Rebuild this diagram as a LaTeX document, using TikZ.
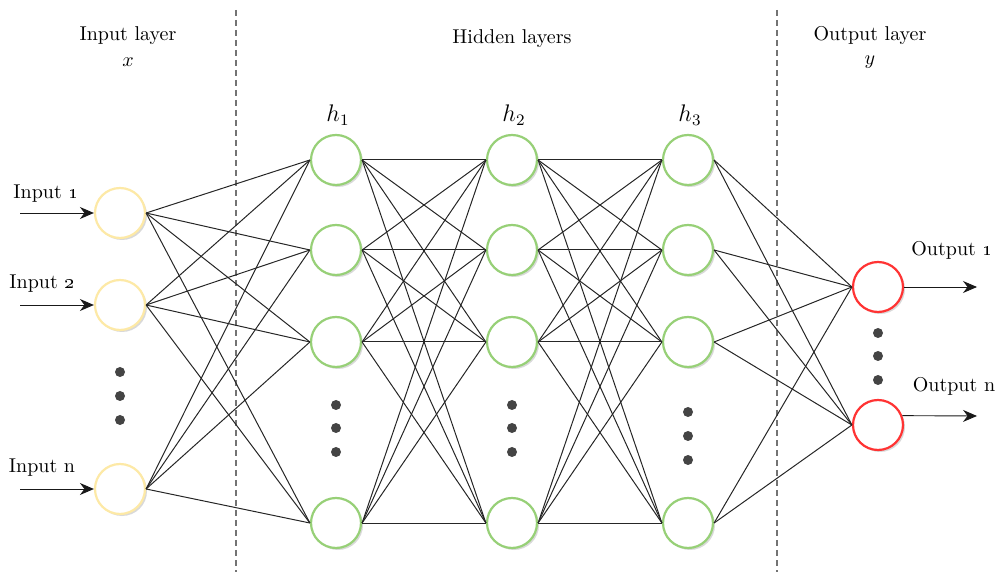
\documentclass[tikz,border=0pt]{standalone}
\usetikzlibrary{arrows.meta,shadows}
\definecolor{yelstroke}{HTML}{FDE9A6}
\definecolor{grnstroke}{HTML}{97D077}
\definecolor{redstroke}{HTML}{FF3333}
\definecolor{dotgray}{HTML}{444444}
\tikzset{
  neuron/.style={circle, minimum size=25pt, inner sep=0pt, line width=1.1pt, fill=white,
    drop shadow={shadow xshift=1pt, shadow yshift=-1pt, opacity=0.25, fill=black!60}},
  inneuron/.style={neuron, draw=yelstroke},
  hidneuron/.style={neuron, draw=grnstroke},
  outneuron/.style={neuron, draw=redstroke},
  conn/.style={draw=black!85, line width=0.5pt},
  iarrow/.style={draw=black!90, line width=0.45pt, -{Stealth[length=7pt,width=6pt]}},
  sep/.style={draw=black!55, line width=0.6pt, dash pattern=on 3pt off 2pt},
  vdot/.style={circle, fill=dotgray, inner sep=0pt, minimum size=5pt},
  lbl/.style={font=\normalsize, inner sep=1pt},
  hlbl/.style={font=\large, inner sep=1pt}
}
\begin{document}
\begin{tikzpicture}[x=0.5pt,y=-0.5pt]
\useasboundingbox (0,0) rectangle (997,572);
% separators
\coordinate (s1t) at (236,10); \coordinate (s1b) at (236,572);
\coordinate (s2t) at (777,10); \coordinate (s2b) at (777,572);
\draw[sep] (s1t) -- (s1b);
\draw[sep] (s2t) -- (s2b);
% headers
\node[lbl] (hin) at (128,36) {Input layer};
\node[lbl] (hinx) at (128,62) {$x$};
\node[lbl] (hhid) at (512,39) {Hidden layers};
\node[lbl] (hout) at (870,36) {Output layer};
\node[lbl] (houty) at (870,62) {$y$};
\node[hlbl] (lh1) at (338,115) {$h_1$};
\node[hlbl] (lh2) at (514,115) {$h_2$};
\node[hlbl] (lh3) at (690,115) {$h_3$};
% input nodes
\node[inneuron] (i1) at (120,213) {};
\node[inneuron] (i2) at (120,305) {};
\node[inneuron] (i3) at (120,489) {};
% hidden nodes
\foreach \c/\x in {a/336,b/512,c/688}{
  \node[hidneuron] (\c1) at (\x,160) {};
  \node[hidneuron] (\c2) at (\x,250) {};
  \node[hidneuron] (\c3) at (\x,342) {};
  \node[hidneuron] (\c4) at (\x,523) {};
}
% output nodes
\node[outneuron] (o1) at (878,287) {};
\node[outneuron] (o2) at (878,425) {};
% dots
\foreach \y [count=\k] in {372,396,420}{\node[vdot] (di\k) at (120,\y) {};}
\foreach \y [count=\k] in {405,428,452}{\node[vdot] (da\k) at (336,\y) {};}
\foreach \y [count=\k] in {405,428,452}{\node[vdot] (db\k) at (512,\y) {};}
\foreach \y [count=\k] in {412,436,460}{\node[vdot] (dc\k) at (688,\y) {};}
\foreach \y [count=\k] in {333,356,380}{\node[vdot] (do\k) at (878,\y) {};}
% connections
\foreach \i in {1,2,3}{\foreach \j in {1,2,3,4}{\draw[conn] (i\i.east) -- (a\j.west);}}
\foreach \i in {1,2,3,4}{\foreach \j in {1,2,3,4}{\draw[conn] (a\i.east) -- (b\j.west);}}
\foreach \i in {1,2,3,4}{\foreach \j in {1,2,3,4}{\draw[conn] (b\i.east) -- (c\j.west);}}
\foreach \i in {1,2,3,4}{\foreach \j in {1,2}{\draw[conn] (c\i.east) -- (o\j.west);}}
% input arrows
\coordinate (ia1) at (20,213);
\coordinate (ia2) at (20,305);
\coordinate (ia3) at (20,489);
\draw[iarrow] (ia1) -- (i1.west);
\draw[iarrow] (ia2) -- (i2.west);
\draw[iarrow] (ia3) -- (i3.west);
\node[lbl] (li1) at (46,194) {Input \oldstylenums{1}};
\node[lbl] (li2) at (42,284) {Input \oldstylenums{2}};
\node[lbl] (li3) at (42,468) {Input n};
% output arrows
\coordinate (oa1) at (977,287);
\coordinate (oa2) at (977,416);
\draw[iarrow] (o1.east) -- (oa1);
\draw[iarrow] (o2.21) -- (oa2);
\node[lbl] (lo1) at (952,250) {Output \oldstylenums{1}};
\node[lbl] (lo2) at (954,386) {Output n};
\end{tikzpicture}
\end{document}
